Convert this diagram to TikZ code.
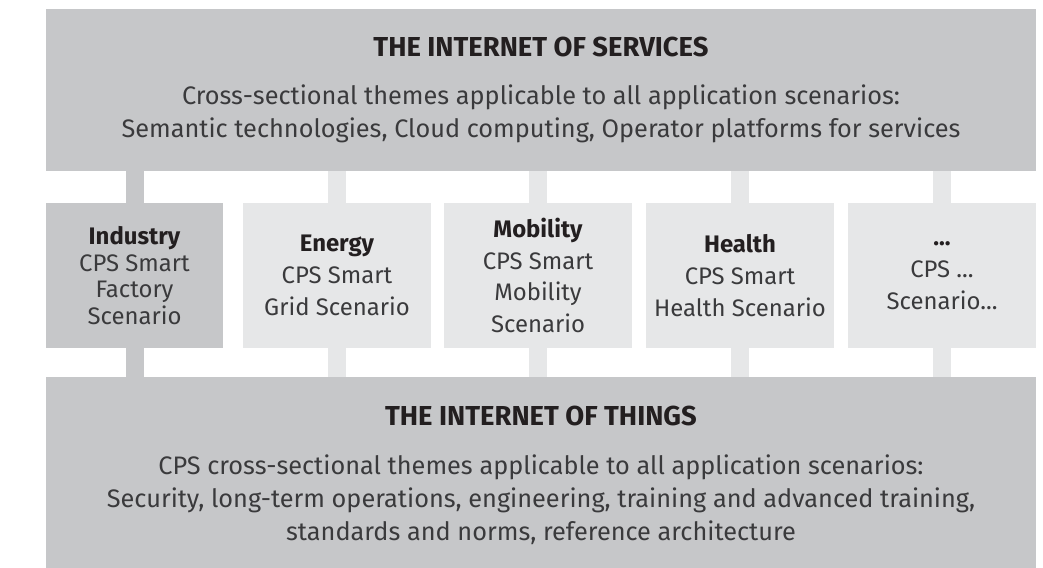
\documentclass[tikz,border=0pt]{standalone}
\usepackage{fontspec}
\setmainfont{Fira Sans}
\usepackage{xcolor}
\definecolor{boxdark}{HTML}{C6C7C9}
\definecolor{boxlight}{HTML}{E6E7E8}
\definecolor{textgray}{HTML}{3A3A3C}
\definecolor{titlegray}{HTML}{231F20}

\newcommand{\layertitle}[1]{{\fontsize{19.5}{23.5}\selectfont\bfseries\color{titlegray}#1}}

\begin{document}
\begin{tikzpicture}[
  layer/.style={fill=boxdark, inner sep=0pt, align=center, text=textgray,
    font=\fontsize{18}{23.5}\selectfont},
  scenario/.style={fill=boxlight, inner sep=0pt, minimum width=4.7cm,
    minimum height=3.625cm, align=center, text=textgray,
    font=\fontsize{17}{22.6}\selectfont},
  bar/.style={line width=0.45cm}
]
\useasboundingbox (0,0) rectangle (26.075,14.175);

\node[layer, minimum width=24.75cm, minimum height=4.05cm] (ios) at (13.525,11.925)
  {\layertitle{THE INTERNET OF SERVICES}\\[11pt]
   Cross-sectional themes applicable to all application scenarios:\\
   Semantic technologies, Cloud computing, Operator platforms for services};
\node[layer, minimum width=24.75cm, minimum height=4.93cm] (iot) at (13.525,2.285)
  {\layertitle{THE INTERNET OF THINGS}\\[11pt]
   CPS cross-sectional themes applicable to all application scenarios:\\
   Security, long-term operations, engineering, training and advanced training,\\
   standards and norms, reference architecture};

\node[scenario, fill=boxdark, minimum width=4.425cm,
  font=\fontsize{17}{18.85}\selectfont] (ind) at (3.3625,7.2875)
  {\textbf{\color{titlegray}Industry}\\CPS Smart\\Factory\\Scenario};
\node[scenario] (ene) at (8.425,7.2875)
  {\textbf{\color{titlegray}Energy}\\CPS Smart\\Grid Scenario};
\node[scenario] (mob) at (13.45,7.2875)
  {\textbf{\color{titlegray}Mobility}\\CPS Smart\\Mobility\\Scenario};
\node[scenario] (hea) at (18.5,7.2875)
  {\textbf{\color{titlegray}Health}\\CPS Smart\\Health Scenario};
\node[scenario] (etc) at (23.55,7.2875)
  {\textbf{\color{titlegray}...}\\CPS ...\\Scenario...};

\foreach \s/\c in {ind/boxdark, ene/boxlight, mob/boxlight, hea/boxlight, etc/boxlight}
{
	\draw[bar, \c] (ios.south -| \s.north) -- (\s.north);
	\draw[bar, \c] (\s.south) -- (iot.north -| \s.south);
}
\end{tikzpicture}
\end{document}
